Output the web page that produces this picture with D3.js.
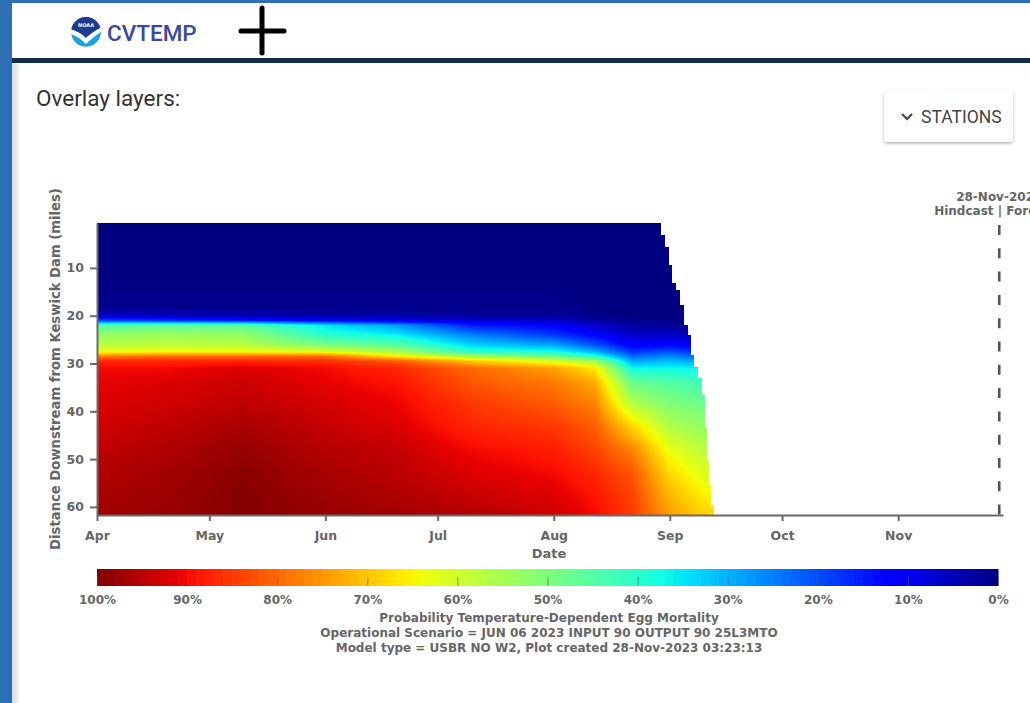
<!DOCTYPE html>
<html lang="en">
<head>
<meta charset="UTF-8">
<title>CVTEMP - Egg Mortality</title>
<style>
  body { margin: 0; background: #2e6eb4; overflow: hidden; }
  svg { display: block; }
  .chart text { font-family: "DejaVu Sans", sans-serif; font-weight: bold; fill: #666; }
  .ui { font-family: Roboto, "Noto Sans", sans-serif; }
</style>
</head>
<body>
<svg id="page" width="1030" height="703"></svg>
<script src="https://d3js.org/d3.v7.min.js"></script>
<script>

// river miles below Keswick Dam (grid rows)
const miles = [0.6, 10, 18, 20, 21, 22, 24, 26, 27.5, 28.5, 29.5, 31, 34, 38, 43, 48, 53, 58, 61.7];

// egg mortality (%) down the river, one array per model date
const apr01 = [0, 0, 1, 6, 20, 45, 53, 57, 63, 78, 87, 90, 91, 92, 93, 94.5, 95.5, 96.5, 97];
const apr20 = [0, 0, 1, 5, 18, 46, 54, 58, 64, 80, 87, 90, 92, 93, 94.5, 96, 97, 97.5, 98];
const may10 = [0, 0, 1, 4, 15, 46, 53, 57, 64, 80, 87, 92, 93.5, 94.5, 96.5, 98, 99, 99.5, 99.5];
const jun01 = [0, 0, 1, 3, 12, 35, 40, 49, 62, 80, 86, 90, 91, 92.5, 94, 95.5, 96.5, 97.5, 98];
const jun20 = [0, 0, 1, 3, 10, 28, 36, 45, 55, 66, 82, 87, 89, 90.5, 92, 94, 95, 96, 97];
const jul10 = [0, 0, 1, 2, 8, 15, 25, 33, 40, 55, 70, 80, 82, 85, 87, 90, 92, 94, 95.5];
const aug01 = [0, 0, 1, 2, 6, 12, 18, 28, 38, 48, 62, 74, 78, 81, 85, 88, 90, 92, 93];
const aug12 = [0, 0, 0, 1, 3, 6, 12, 20, 30, 40, 55, 66, 73, 77, 81, 84, 87, 89, 90];
const aug22 = [0, 0, 0, 0, 1, 3, 6, 11, 17, 23, 29, 37, 48, 56, 68, 77, 82, 84, 85];
const sep01 = [0, 0, 0, 0, 1, 2, 6, 12, 20, 26, 31, 37, 45, 50, 56, 63, 68, 72, 74];
const sep13 = [0, 0, 0, 0, 0, 1, 3, 8, 14, 20, 28, 36, 42, 47, 52, 56, 60, 64, 68];

const dates = ["2023-04-01", "2023-04-20", "2023-05-10", "2023-06-01", "2023-06-20", "2023-07-10",
               "2023-08-01", "2023-08-12", "2023-08-22", "2023-09-01", "2023-09-13"];
const columns = [apr01, apr20, may10, jun01, jun20, jul10, aug01, aug12, aug22, sep01, sep13];

// last modelled time for each reach (starting mile) -> the stepped right edge
const edgeMiles = [0.6, 3.1, 5.6, 9.4, 13.2, 14.6, 17.8, 21.9, 24.0, 28.2, 30.7, 33.1, 36.6, 43.5, 50.5, 55.4, 59.6];
const edgeDates = ["2023-08-29 14:00", "2023-08-30 17:00", "2023-08-31 19:00", "2023-09-01 14:00",
                   "2023-09-02 14:00", "2023-09-03 17:00", "2023-09-04 19:00", "2023-09-05 22:00",
                   "2023-09-06 17:00", "2023-09-07 12:00", "2023-09-08 12:00", "2023-09-09 14:00",
                   "2023-09-10 10:00", "2023-09-10 22:00", "2023-09-11 12:00", "2023-09-12 00:00",
                   "2023-09-12 19:00"];

const mileTicks = [10, 20, 30, 40, 50, 60];
const legendTicks = [100, 90, 80, 70, 60, 50, 40, 30, 20, 10, 0];
const forecastDate = "2023-11-28";

const footer = [
  "Probability Temperature-Dependent Egg Mortality",
  "Operational Scenario = JUN 06 2023 INPUT 90 OUTPUT 90 25L3MTO",
  "Model type = USBR NO W2, Plot created 28-Nov-2023 03:23:13"
];

const width = 1030, height = 703;
const svg = d3.select("#page");

// ---- page frame ----
svg.append("rect").attr("x", 12).attr("y", 3).attr("width", width - 12).attr("height", height - 3).attr("fill", "#fff");
svg.append("rect").attr("x", 12).attr("y", 58).attr("width", width - 12).attr("height", 5).attr("fill", "#0f2d46");

const defs = svg.append("defs");
const side = defs.append("linearGradient").attr("id", "side");
side.append("stop").attr("offset", 0).attr("stop-color", "#d9d9d9");
side.append("stop").attr("offset", 1).attr("stop-color", "#f3f3f3");
svg.append("rect").attr("x", 12).attr("y", 63).attr("width", 7).attr("height", height - 63).attr("fill", "url(#side)");

defs.append("filter").attr("id", "shadow").attr("x", -0.2).attr("y", -0.3).attr("width", 1.4).attr("height", 1.7)
  .append("feDropShadow").attr("dx", 0).attr("dy", 1.5).attr("stdDeviation", 1.8)
  .attr("flood-color", "#000").attr("flood-opacity", 0.3);

// noaa logo
defs.append("clipPath").attr("id", "logoclip").append("circle").attr("r", 15);
const logo = svg.append("g").attr("transform", "translate(86,32)").attr("clip-path", "url(#logoclip)");
logo.append("circle").attr("r", 15).attr("fill", "#1ba3df");
logo.append("path").attr("d", "M-16,-16H16V-5Q5,1 0,6Q-6,0 -16,-3Z").attr("fill", "#1d3a8c");
logo.append("path").attr("d", "M-16,-3Q-6,0 0,6Q5,1 16,-5V-1Q6,6 0,12Q-8,4 -16,2Z").attr("fill", "#fff");
logo.append("text").attr("x", 0).attr("y", -5).attr("text-anchor", "middle")
  .attr("font-size", 5).attr("font-family", "DejaVu Sans").attr("font-weight", "bold")
  .attr("fill", "#fff").text("NOAA");

svg.append("text").attr("class", "ui").attr("x", 107).attr("y", 41)
  .attr("font-size", 22.5).attr("font-weight", 500).attr("fill", "#3b4a9c").text("CVTEMP");

// big plus cursor
svg.append("g").attr("stroke", "#000").attr("stroke-width", 5).attr("stroke-linecap", "round")
  .selectAll("line").data([[262, 8, 262, 53], [241, 31, 284, 31]]).join("line")
  .attr("x1", d => d[0]).attr("y1", d => d[1]).attr("x2", d => d[2]).attr("y2", d => d[3]);

svg.append("text").attr("class", "ui").attr("x", 36).attr("y", 106)
  .attr("font-size", 22.5).attr("fill", "#333").text("Overlay layers:");

// stations button
const btn = svg.append("g").attr("transform", "translate(884,91)");
btn.append("rect").attr("width", 129).attr("height", 51).attr("rx", 4).attr("fill", "#fff").attr("filter", "url(#shadow)");
btn.append("path").attr("d", "M18,23l5,5l5,-5").attr("fill", "none").attr("stroke", "#444").attr("stroke-width", 2.2);
btn.append("text").attr("class", "ui").attr("x", 37).attr("y", 32)
  .attr("font-size", 17.5).attr("fill", "#444").text("STATIONS");

// ---- chart ----
const parseDay = d3.timeParse("%Y-%m-%d");
const parseTime = d3.timeParse("%Y-%m-%d %H:%M");
const chart = svg.append("g").attr("class", "chart");

const x = d3.scaleTime().domain([parseDay("2023-04-01"), parseDay("2023-11-29")]).range([97, 1003]);
const y = d3.scaleLinear().domain([0.6, 61.7]).range([223, 515]);

// jet colour map, value in % mortality
const color = d3.scaleLinear()
  .domain([0, 11, 12.5, 34, 35, 37.5, 64, 65, 66, 89, 91, 100])
  .range(["#000080", "#0000ff", "#0000ff", "#00dbff", "#00e6f7", "#15ffe2",
          "#efff08", "#f7f500", "#ffec00", "#ff1300", "#e80000", "#800000"])
  .clamp(true);

// heat map drawn into a canvas, smooth shading between grid nodes
const colT = dates.map(d => +parseDay(d));
const edgeT = edgeDates.map(d => +parseTime(d));
const hmLeft = Math.round(x.range()[0]), hmTop = Math.round(y.range()[0]);
const hmRight = Math.ceil(x(d3.max(edgeT))), hmBottom = Math.round(y.range()[1]);
const cw = hmRight - hmLeft, ch = hmBottom - hmTop;
const canvas = document.createElement("canvas");
canvas.width = cw; canvas.height = ch;
const ctx = canvas.getContext("2d");
const img = ctx.createImageData(cw, ch);

function locate(arr, v) {
  let i = d3.bisectRight(arr, v) - 1;
  i = Math.max(0, Math.min(arr.length - 2, i));
  const f = Math.max(0, Math.min(1, (v - arr[i]) / (arr[i + 1] - arr[i])));
  return [i, f];
}

for (let j = 0; j < ch; j++) {
  const m = y.invert(hmTop + j + 0.5);
  const [r, fr] = locate(miles, m);
  const k = Math.max(0, d3.bisectRight(edgeMiles, m) - 1);
  const end = edgeT[k];
  for (let i = 0; i < cw; i++) {
    const t = +x.invert(hmLeft + i + 0.5);
    if (t > end) continue;
    const [c, fc] = locate(colT, t);
    const a = columns[c][r] * (1 - fr) + columns[c][r + 1] * fr;
    const b = columns[c + 1][r] * (1 - fr) + columns[c + 1][r + 1] * fr;
    const col = d3.rgb(color(a * (1 - fc) + b * fc));
    const p = (j * cw + i) * 4;
    img.data[p] = col.r; img.data[p + 1] = col.g; img.data[p + 2] = col.b; img.data[p + 3] = 255;
  }
}
ctx.putImageData(img, 0, 0);

chart.append("image").attr("x", hmLeft).attr("y", hmTop).attr("width", cw).attr("height", ch)
  .attr("preserveAspectRatio", "none").attr("href", canvas.toDataURL());

// axes
const xAxis = chart.append("g").attr("transform", `translate(0,${hmBottom})`)
  .call(d3.axisBottom(x).ticks(d3.timeMonth.every(1)).tickFormat(d3.timeFormat("%b"))
    .tickSizeInner(6).tickSizeOuter(0).tickPadding(10));

const yAxis = chart.append("g").attr("transform", `translate(${hmLeft},0)`)
  .call(d3.axisLeft(y).tickValues(mileTicks).tickSizeInner(7).tickSizeOuter(0).tickPadding(6));

[xAxis, yAxis].forEach(g => {
  g.selectAll("path, line").attr("stroke", "#6a6a6a").attr("stroke-width", 2);
  g.selectAll("text").attr("font-size", 12.5).attr("fill", "#666");
});

chart.append("text").attr("x", 549).attr("y", 558).attr("text-anchor", "middle")
  .attr("font-size", 13).text("Date");

chart.append("text").attr("transform", "translate(60,369) rotate(-90)").attr("text-anchor", "middle")
  .attr("font-size", 13.2).text("Distance Downstream from Keswick Dam (miles)");

// hindcast / forecast marker
const fx = x(parseDay(forecastDate));
chart.append("line").attr("x1", fx).attr("x2", fx).attr("y1", 225).attr("y2", hmBottom)
  .attr("stroke", "#555").attr("stroke-width", 2.6).attr("stroke-dasharray", "10,13.3");
chart.append("text").attr("x", fx).attr("y", 201).attr("text-anchor", "middle")
  .attr("font-size", 12).text("28-Nov-2023");
chart.append("text").attr("x", fx).attr("y", 215).attr("text-anchor", "middle")
  .attr("font-size", 12).text("Hindcast | Forecast");

// colour bar
const cb = d3.scaleLinear().domain([100, 0]).range([97, 998]);
const cbTop = 569, cbH = 17;
chart.append("g").selectAll("rect").data(d3.range(0, 100)).join("rect")
  .attr("x", d => cb(d + 1)).attr("y", cbTop)
  .attr("width", d => cb(d) - cb(d + 1) + 0.5).attr("height", cbH)
  .attr("fill", d => color(d + 0.5));

const cbAxis = chart.append("g").attr("transform", `translate(0,${cbTop + cbH})`)
  .call(d3.axisBottom(cb).tickValues(legendTicks).tickFormat(d => d + "%")
    .tickSizeInner(-9).tickSizeOuter(0).tickPadding(9));
cbAxis.select(".domain").remove();
cbAxis.selectAll("line").attr("stroke", "#555").attr("stroke-opacity", 0.6);
cbAxis.selectAll("text").attr("font-size", 12).attr("fill", "#666");

chart.append("g").selectAll("text").data(footer).join("text")
  .attr("x", 549).attr("y", (d, i) => 622 + i * 15).attr("text-anchor", "middle")
  .attr("font-size", 12).text(d => d);

</script>
</body>
</html>
